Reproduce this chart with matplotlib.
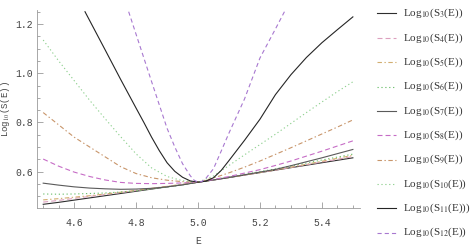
import matplotlib
matplotlib.use("Agg")
import matplotlib.pyplot as plt
from matplotlib.lines import Line2D
from matplotlib.ticker import MultipleLocator, FixedLocator

plt.rcParams['lines.scale_dashes'] = False
plt.rcParams['mathtext.fontset'] = 'stix'

# ---- data ----
E = [4.5, 4.55, 4.6, 4.65, 4.7, 4.75, 4.8, 4.85, 4.9, 4.95, 5.0,
     5.05, 5.1, 5.15, 5.2, 5.25, 5.3, 5.35, 5.4, 5.45, 5.5]
S3 = [0.467, 0.475, 0.484, 0.493, 0.502, 0.511, 0.520, 0.529, 0.538, 0.547, 0.557,
      0.566, 0.576, 0.586, 0.596, 0.606, 0.616, 0.626, 0.636, 0.646, 0.656]
S4 = [0.476, 0.483, 0.491, 0.499, 0.507, 0.515, 0.523, 0.531, 0.540, 0.548, 0.557,
      0.566, 0.576, 0.586, 0.596, 0.606, 0.617, 0.628, 0.639, 0.650, 0.661]
S5 = [0.485, 0.490, 0.496, 0.502, 0.509, 0.516, 0.524, 0.532, 0.540, 0.548, 0.557,
      0.566, 0.576, 0.586, 0.596, 0.607, 0.618, 0.630, 0.642, 0.654, 0.666]
S6 = [0.509, 0.508, 0.509, 0.511, 0.513, 0.517, 0.522, 0.529, 0.537, 0.546, 0.557,
      0.567, 0.578, 0.589, 0.600, 0.611, 0.623, 0.635, 0.647, 0.659, 0.671]
S7 = [0.553, 0.545, 0.538, 0.533, 0.530, 0.528, 0.529, 0.532, 0.538, 0.546, 0.557,
      0.566, 0.576, 0.587, 0.598, 0.609, 0.624, 0.640, 0.656, 0.673, 0.690]
S8 = [0.651, 0.622, 0.598, 0.580, 0.566, 0.556, 0.552, 0.551, 0.552, 0.554, 0.557,
      0.568, 0.580, 0.594, 0.608, 0.625, 0.643, 0.663, 0.683, 0.704, 0.725]
S9 = [0.840, 0.790, 0.740, 0.700, 0.660, 0.620, 0.592, 0.575, 0.565, 0.559, 0.557,
      0.574, 0.595, 0.618, 0.643, 0.670, 0.697, 0.725, 0.753, 0.781, 0.810]
S10 = [1.135, 1.050, 0.970, 0.890, 0.815, 0.742, 0.672, 0.615, 0.580, 0.563, 0.557,
       0.582, 0.625, 0.668, 0.710, 0.752, 0.796, 0.840, 0.883, 0.925, 0.965]
E11 = [4.635, 4.7, 4.75, 4.8, 4.825, 4.85, 4.875, 4.9, 4.925, 4.95, 4.975, 5.0, 5.025,
       5.05, 5.075, 5.1, 5.125, 5.15, 5.175, 5.2, 5.25, 5.3, 5.35, 5.4, 5.45, 5.5]
S11 = [1.25, 1.095, 0.975, 0.858, 0.800, 0.740, 0.685, 0.636, 0.601, 0.577, 0.562, 0.557,
       0.561, 0.575, 0.605, 0.645, 0.686, 0.727, 0.770, 0.813, 0.913, 0.994, 1.064,
       1.124, 1.177, 1.229]
E12 = [4.776, 4.8, 4.85, 4.9, 4.925, 4.95, 4.975, 4.9875, 5.0, 5.0125, 5.025, 5.05,
       5.075, 5.1, 5.125, 5.15, 5.2, 5.25, 5.279]
S12 = [1.25, 1.158, 0.966, 0.776, 0.700, 0.632, 0.583, 0.565, 0.557, 0.560, 0.572, 0.612,
       0.684, 0.757, 0.826, 0.895, 1.062, 1.180, 1.25]

labels = ['Log$_{10}$(S$_{3}$(E))', 'Log$_{10}$(S$_{4}$(E))', 'Log$_{10}$(S$_{5}$(E))',
          'Log$_{10}$(S$_{6}$(E))', 'Log$_{10}$(S$_{7}$(E))', 'Log$_{10}$(S$_{8}$(E))',
          'Log$_{10}$(S$_{9}$(E))', 'Log$_{10}$(S$_{10}$(E))', 'Log$_{10}$(S$_{11}$(E)))',
          'Log$_{10}$(S$_{12}$(E))']
xs = [E, E, E, E, E, E, E, E, E11, E12]
ys = [S3, S4, S5, S6, S7, S8, S9, S10, S11, S12]

styles = [
    dict(color='#2e2e2e', linestyle='-'),
    dict(color='#dca0be', dashes=(3.6, 2.2)),
    dict(color='#d2ae70', dashes=(3.2, 1.8, 1.0, 1.8)),
    dict(color='#6cbf6c', dashes=(0.9, 1.9)),
    dict(color='#5a5a5a', linestyle='-'),
    dict(color='#c66cc6', dashes=(3.6, 2.2)),
    dict(color='#c8956a', dashes=(3.2, 1.8, 1.0, 1.8)),
    dict(color='#8fd08f', dashes=(0.9, 1.9)),
    dict(color='#252525', linestyle='-'),
    dict(color='#a878d0', dashes=(3.0, 2.2)),
]

W, H = 472, 249
fig = plt.figure(figsize=(W / 100, H / 100), dpi=100)
ax = fig.add_axes([37 / W, 1 - 208 / H, (360 - 37) / W, (208 - 10) / H])

for x, y, st in zip(xs, ys, styles):
    ax.plot(x, y, lw=0.8, **st)

ax.set_xlim(4.48, 5.523)
ax.set_ylim(0.452, 1.257)

for s in ['top', 'right']:
    ax.spines[s].set_visible(False)
for s in ['left', 'bottom']:
    ax.spines[s].set_color('#9a9a9a')
    ax.spines[s].set_linewidth(0.6)

ax.xaxis.set_major_locator(FixedLocator([4.6, 4.8, 5.0, 5.2, 5.4]))
ax.xaxis.set_minor_locator(MultipleLocator(0.05))
ax.yaxis.set_major_locator(FixedLocator([0.6, 0.8, 1.0, 1.2]))
ax.yaxis.set_minor_locator(MultipleLocator(0.05))
ax.tick_params(which='both', direction='in', color='#9a9a9a', width=0.6,
               labelsize=7, labelcolor='#444444')
ax.tick_params(axis='x', which='major', length=4, pad=7)
ax.tick_params(axis='y', which='major', length=4, pad=3)
ax.tick_params(which='minor', length=2)
for lab in ax.get_xticklabels() + ax.get_yticklabels():
    lab.set_family('Liberation Mono')

ax.set_xlabel('E', fontsize=7, family='Liberation Mono', color='#444444', labelpad=6)
ax.set_ylabel('Log$_{10}$(S(E))', fontsize=6.5, family='Liberation Mono',
              color='#444444', labelpad=2)

# legend drawn manually
for i, (lab, st) in enumerate(zip(labels, styles)):
    ypx = 13.5 + 24.35 * i
    yf = 1 - ypx / H
    fig.add_artist(Line2D([377 / W, 396 / W], [yf, yf], lw=0.8, **st))
    fig.text(403 / W, yf, lab, fontsize=8, family='Liberation Serif',
             va='center', ha='left', color='#333333')

fig.savefig('out.png', dpi=100)
